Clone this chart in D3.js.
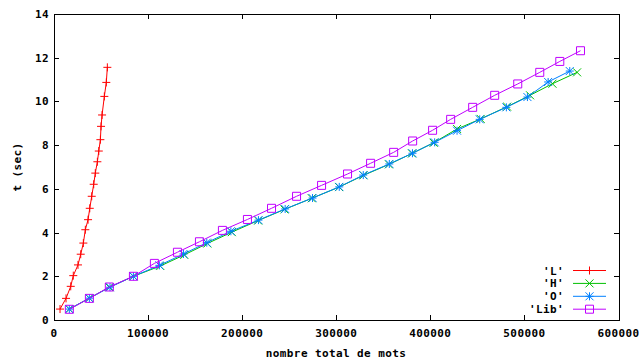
<!DOCTYPE html>
<html lang="en">
<head>
  <meta charset="UTF-8">
  <title>t vs nombre total de mots</title>
  <style>
    body { margin: 0; background: #fff; }
    text { font-family: "DejaVu Sans Mono", monospace; font-weight: bold; font-size: 11px; letter-spacing: 0.4px; fill: #000; }
  </style>
</head>
<body>
<script src="https://cdn.jsdelivr.net/npm/d3@7/dist/d3.min.js"></script>
<script>
// series values (x = nombre total de mots, y = t en sec)
const xL = [6400, 12800, 17800, 20500, 25500, 28400, 31200, 33300, 36200, 38000, 40100,
            42200, 43900, 46100, 47600, 49300, 50000, 51100, 53500, 55600, 56700]
const yL = [0.50, 0.99, 1.54, 2.03, 2.52, 3.01, 3.52, 4.13, 4.59, 5.11, 5.66,
            6.21, 6.72, 7.24, 7.73, 8.25, 8.86, 9.38, 10.23, 10.87, 11.56]

const xH = [16300, 37600, 58800, 84400, 113000, 138500, 163000, 189000, 217000, 245000, 274000,
            303000, 329000, 356000, 380500, 403500, 428400, 453500, 481600, 506000, 529800, 556000]
const yH = [0.50, 1.00, 1.50, 2.00, 2.47, 2.98, 3.50, 4.02, 4.55, 5.06, 5.57,
            6.08, 6.62, 7.12, 7.62, 8.11, 8.74, 9.20, 9.76, 10.28, 10.81, 11.33]

const xO = [16300, 37600, 59500, 84400, 112000, 137600, 162400, 188000, 217300, 245700, 274800,
            303200, 328700, 356400, 381000, 404600, 428400, 452500, 480800, 503200, 525200, 548200]
const yO = [0.50, 1.00, 1.50, 2.00, 2.50, 3.02, 3.54, 4.06, 4.57, 5.08, 5.58,
            6.09, 6.63, 7.14, 7.63, 8.13, 8.66, 9.18, 9.73, 10.20, 10.89, 11.39]

const xLib = [16300, 37600, 58800, 84400, 106700, 131200, 154600, 179000, 205600, 231200, 257800, 284400,
              312000, 336500, 361000, 381200, 402400, 421600, 445000, 468400, 492900, 516300, 537600, 559600]
const yLib = [0.49, 0.99, 1.51, 2.00, 2.59, 3.10, 3.58, 4.10, 4.60, 5.11, 5.66, 6.16,
              6.68, 7.17, 7.67, 8.19, 8.68, 9.18, 9.73, 10.28, 10.80, 11.33, 11.83, 12.32]

const seriesNames = ["'L'", "'H'", "'O'", "'Lib'"]
const xTicks = [0, 100000, 200000, 300000, 400000, 500000, 600000]
const yTicks = [0, 2, 4, 6, 8, 10, 12, 14]

const width = 640, height = 360
const mLeft = 54, mRight = 618.5, mTop = 14, mBottom = 320

const svg = d3.select("body").append("svg")
  .attr("width", width).attr("height", height)

const x = d3.scaleLinear().domain([0, 600000]).range([mLeft, mRight])
const y = d3.scaleLinear().domain([0, 14]).range([mBottom, mTop])

// axes, ticks inward on all four sides (gnuplot mirror)
const tick = 5
const g = svg.append("g").attr("shape-rendering", "crispEdges")
g.append("rect")
  .attr("x", mLeft + 0.5).attr("y", mTop + 0.5)
  .attr("width", mRight - mLeft).attr("height", mBottom - mTop)
  .attr("fill", "none").attr("stroke", "#000")

xTicks.forEach(t => {
  const px = Math.round(x(t)) + 0.5
  g.append("line").attr("x1", px).attr("x2", px).attr("y1", mBottom).attr("y2", mBottom - tick).attr("stroke", "#000")
  g.append("line").attr("x1", px).attr("x2", px).attr("y1", mTop).attr("y2", mTop + tick).attr("stroke", "#000")
  svg.append("text").attr("x", x(t)).attr("y", 337).attr("text-anchor", "middle").text(t)
})
yTicks.forEach(t => {
  const py = Math.round(y(t)) + 0.5
  g.append("line").attr("x1", mLeft).attr("x2", mLeft + tick).attr("y1", py).attr("y2", py).attr("stroke", "#000")
  g.append("line").attr("x1", mRight).attr("x2", mRight - tick).attr("y1", py).attr("y2", py).attr("stroke", "#000")
  svg.append("text").attr("x", 49).attr("y", y(t) + 4).attr("text-anchor", "end").text(t)
})

svg.append("text").attr("x", 336).attr("y", 357).attr("text-anchor", "middle").text("nombre total de mots")
svg.append("text").attr("transform", "translate(21,167) rotate(-90)").attr("text-anchor", "middle").text("t (sec)")

// point symbols
const s = 4
const sym = {
  plus: (p, cx, cy) => p + `M${cx - s},${cy}H${cx + s}M${cx},${cy - s}V${cy + s}`,
  cross: (p, cx, cy) => p + `M${cx - s},${cy - s}L${cx + s},${cy + s}M${cx - s},${cy + s}L${cx + s},${cy - s}`,
  star: (p, cx, cy) => sym.cross(sym.plus(p, cx, cy), cx, cy),
  square: (p, cx, cy) => p + `M${cx - s},${cy - s}H${cx + s}V${cy + s}H${cx - s}Z`
}

const series = [
  {name: seriesNames[0], xs: xL, ys: yL, color: "#ff0000", mark: "plus"},
  {name: seriesNames[1], xs: xH, ys: yH, color: "#00c000", mark: "cross"},
  {name: seriesNames[2], xs: xO, ys: yO, color: "#0080ff", mark: "star"},
  {name: seriesNames[3], xs: xLib, ys: yLib, color: "#c000ff", mark: "square"}
]

const line = d3.line().x(d => x(d[0])).y(d => y(d[1]))

series.forEach((sr, i) => {
  const pts = sr.xs.map((v, j) => [v, sr.ys[j]])
  svg.append("path").datum(pts)
    .attr("d", line).attr("fill", "none").attr("stroke", sr.color).attr("stroke-width", 1)
  svg.append("path")
    .attr("d", pts.reduce((p, d) => sym[sr.mark](p, x(d[0]), y(d[1])), ""))
    .attr("fill", "none").attr("stroke", sr.color).attr("stroke-width", 1)

  // legend
  const ly = 270.5 + i * 12.9
  svg.append("text").attr("x", 564).attr("y", ly + 4).attr("text-anchor", "end").text(sr.name)
  svg.append("line").attr("x1", 573).attr("x2", 606).attr("y1", ly).attr("y2", ly)
    .attr("stroke", sr.color)
  svg.append("path").attr("d", sym[sr.mark]("", 589.5, ly))
    .attr("fill", "none").attr("stroke", sr.color)
})
</script>
</body>
</html>
